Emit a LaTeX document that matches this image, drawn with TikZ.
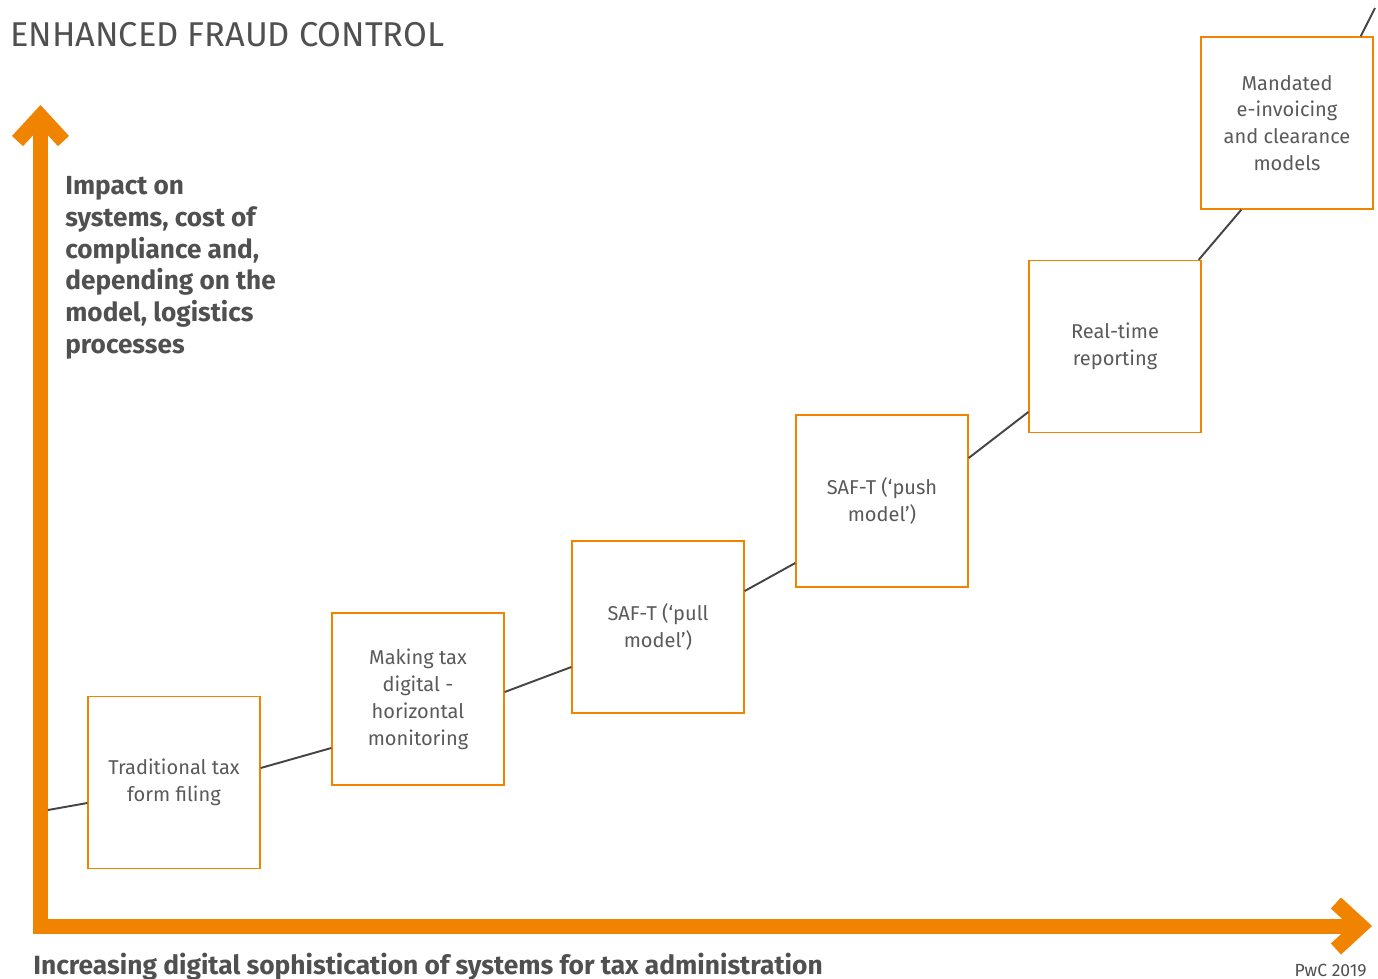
\documentclass[tikz,border=0pt]{standalone}
\usepackage{fontspec}
\setmainfont{Fira Sans}
\usetikzlibrary{arrows.meta,calc}
\definecolor{pwcorange}{RGB}{240,131,0}
\definecolor{textgray}{RGB}{80,80,80}
\definecolor{boxtext}{RGB}{90,90,90}
\definecolor{linegray}{RGB}{68,68,68}
\begin{document}
\begin{tikzpicture}[x=0.02cm, y=-0.02cm,
    axis/.style={draw=pwcorange, line width=0.3cm, line join=miter,
      {Straight Barb[length=0.5cm, width=0.92cm, line join=miter, line cap=butt]}-{Straight Barb[length=0.5cm, width=0.92cm, line join=miter, line cap=butt]}},
    stage/.style={draw=pwcorange, line width=0.8pt, fill=white,
      minimum width=3.44cm, minimum height=3.44cm, inner sep=0pt,
      align=center, text=boxtext, font=\fontsize{11.4}{15.3}\selectfont},
    link/.style={draw=linegray, line width=1.1pt}]
  \useasboundingbox (0,0) rectangle (1378,979);
  % axes
  \draw[axis] (40.5,105) |- (1372,926);
  \coordinate (c0) at (48,810);
  % stages
  \node[stage] (b1) at (174,782.5) {Traditional tax\\form filing};
  \node[stage] (b2) at (418,699) {Making tax\\digital -\\horizontal\\monitoring};
  \node[stage] (b3) at (658,627) {SAF-T (‘pull\\model’)};
  \node[stage] (b4) at (882,501) {SAF-T (‘push\\model’)};
  \node[stage] (b5) at (1115,346.5) {Real-time\\reporting};
  \node[stage] (b6) at (1287,123) {Mandated\\e-invoicing\\and clearance\\models};
  \coordinate (c7) at (1375,8);
  % curve
  \draw[link] (c0) -- ($(b1.west)+(0,20.5)$);
  \draw[link] ($(b1.east)+(0,-14.5)$) -- ($(b2.west)+(0,49)$);
  \draw[link] ($(b2.east)+(0,-7)$) -- ($(b3.west)+(0,40)$);
  \draw[link] ($(b3.east)+(0,-36)$) -- ($(b4.west)+(0,62)$);
  \draw[link] ($(b4.east)+(0,-43)$) -- ($(b5.west)+(0,65.5)$);
  \draw[link] ($(b5.north east)+(-3,0)$) -- ($(b6.south west)+(41,0)$);
  \draw[link] ($(b6.north east)+(-13,0)$) -- (c7);
  % labels
  \node[anchor=base west, inner sep=0pt, text=textgray,
        font=\fontsize{19.6}{24}\selectfont] (title) at (10,47)
    {ENHANCED FRAUD CONTROL};
  \node[anchor=north west, inner sep=0pt, align=left, text=textgray,
        font=\fontsize{14.9}{18.1}\selectfont\bfseries] (ylab) at (65,176)
    {Impact on\\systems, cost of\\compliance and,\\depending on the\\model, logistics\\processes};
  \node[anchor=base west, inner sep=0pt, text=textgray,
        font=\fontsize{15}{17}\selectfont\bfseries] (xlab) at (33,974)
    {Increasing digital sophistication of systems for tax administration};
  \node[anchor=base east, inner sep=0pt, text=textgray,
        font=\fontsize{10}{12}\selectfont] (src) at (1367,976) {PwC 2019};
\end{tikzpicture}
\end{document}
